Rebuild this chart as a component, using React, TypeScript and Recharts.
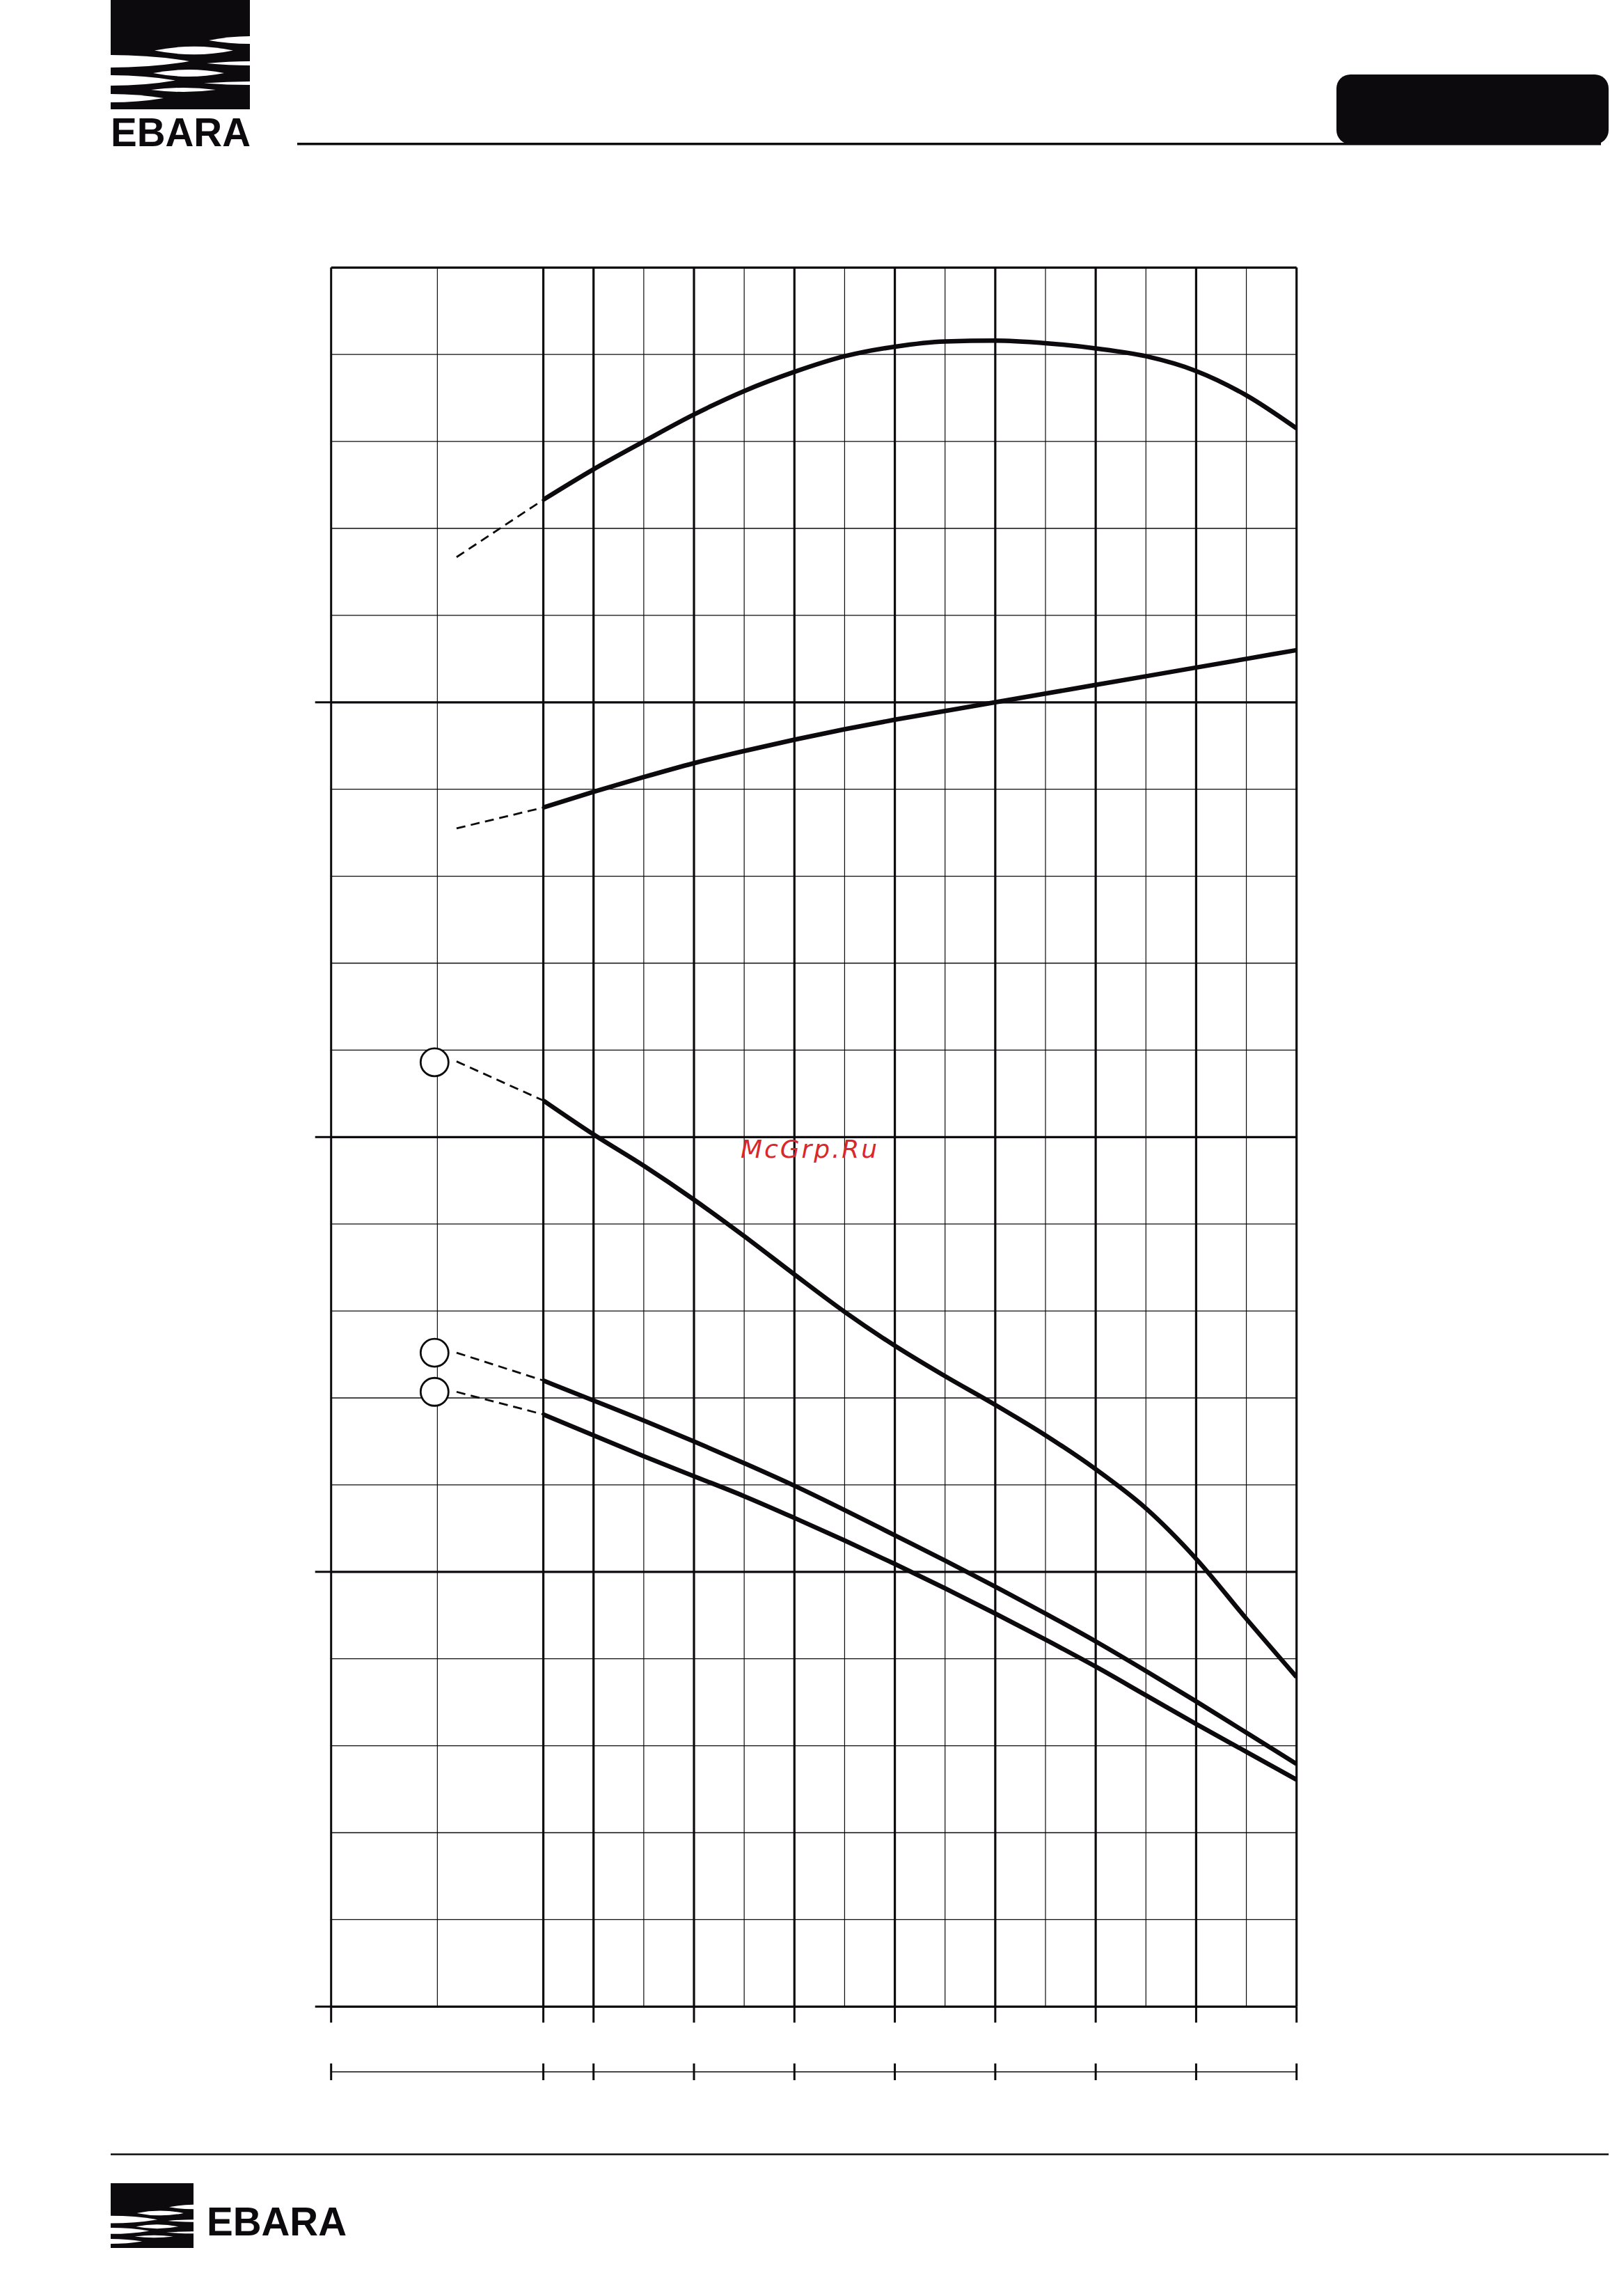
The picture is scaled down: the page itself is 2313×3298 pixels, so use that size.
import React from 'react';
import {
  ComposedChart,
  Line,
  Scatter,
  XAxis,
  YAxis,
  ReferenceLine,
} from 'recharts';

// ============================================================================
// Data (axis has no printed labels; units are grid units)
// ============================================================================

const X_MIN = -0.613;
const X_MAX = 9;
const Y_MIN = 0;
const Y_MAX = 20;

const X_TICKS = [X_MIN, 1.5, 2, 3, 4, 5, 6, 7, 8, 9];
const X_MAJOR = [1.5, 2, 3, 4, 5, 6, 7, 8, 9];
const X_MINOR = [0.445, 2.5, 3.5, 4.5, 5.5, 6.5, 7.5, 8.5];
const Y_TICKS = [0, 5, 10, 15];
const Y_MAJOR = [5, 10, 15, 20];
const Y_MINOR = [1, 2, 3, 4, 6, 7, 8, 9, 11, 12, 13, 14, 16, 17, 18, 19];
const SUB_AXIS_Y = -0.75;

const flowSolid = [1.5, 2, 2.5, 3, 3.5, 4, 4.5, 5, 5.5, 6, 6.5, 7, 7.5, 8, 8.5, 9];
const efficiency = [17.33, 17.68, 18.0, 18.31, 18.58, 18.8, 18.98, 19.09, 19.15, 19.16, 19.13, 19.07, 18.98, 18.81, 18.53, 18.15];
const power = [13.79, 13.97, 14.14, 14.3, 14.44, 14.57, 14.69, 14.8, 14.9, 15.0, 15.1, 15.2, 15.3, 15.4, 15.5, 15.6];
const headA = [10.42, 10.03, 9.67, 9.28, 8.86, 8.42, 7.99, 7.6, 7.25, 6.92, 6.57, 6.18, 5.73, 5.15, 4.46, 3.79];
const headB = [7.2, 6.97, 6.74, 6.5, 6.25, 5.99, 5.71, 5.42, 5.13, 4.83, 4.52, 4.2, 3.86, 3.51, 3.15, 2.79];
const headC = [6.81, 6.57, 6.33, 6.1, 5.87, 5.62, 5.36, 5.09, 4.81, 4.52, 4.22, 3.91, 3.58, 3.25, 2.93, 2.61];

const flowDash = [0.636, 1.5];
const efficiencyDash = [16.67, 17.33];
const powerDash = [13.55, 13.79];
const headADash = [10.87, 10.42];
const headBDash = [7.52, 7.2];
const headCDash = [7.07, 6.81];

const markerX = [0.417, 0.417, 0.417];
const markerY = [10.86, 7.52, 7.07];

// ============================================================================
// Constants
// ============================================================================

const INK = '#0d0a0e';
const PAGE_W = 2313;
const PAGE_H = 3298;

const toPoints = (xs: number[], ys: number[]) => xs.map((x, i) => ({ x, y: ys[i] }));
const noLabel = () => '';

const SOLID = [efficiency, power, headA, headB, headC];
const DASHED = [efficiencyDash, powerDash, headADash, headBDash, headCDash];

const WAVES = [
  'M141 58 Q170 52 200 52 L200 63 Q170 63 141 58 Z',
  'M138 91 Q170 88 200 88 L200 94 Q170 94 138 91 Z',
  'M134 119.5 Q168 117 200 117 L200 122 Q168 122 134 119.5 Z',
  'M0 79 Q60 79 113 88 Q60 97 0 97 Z',
  'M0 108 Q50 108 93 115.5 Q50 123 0 123 Z',
  'M0 135 Q40 135 76 141 Q40 147 0 147 Z',
  'M63 72.5 Q120 61 176 72.5 Q120 84 63 72.5 Z',
  'M61 105 Q112 95 163 105 Q112 115 61 105 Z',
  'M58 129 Q105 123 151 129 Q105 135 58 129 Z',
];

const LogoMark: React.FC<{ x: number; y: number; w: number; h: number }> = ({ x, y, w, h }) => (
  <svg x={x} y={y} width={w} height={h} viewBox="0 0 200 157" preserveAspectRatio="none">
    <rect x={0} y={0} width={200} height={157} fill={INK} />
    {WAVES.map((d, i) => (
      <path key={i} d={d} fill="#fff" />
    ))}
  </svg>
);

const LogoText: React.FC<{ x: number; y: number }> = ({ x, y }) => (
  <text
    x={x}
    y={y}
    fontFamily="Liberation Sans, Arial, sans-serif"
    fontWeight={700}
    fontSize={58}
    textLength={201}
    lengthAdjust="spacingAndGlyphs"
    fill={INK}
  >
    EBARA
  </text>
);

const RingMarker = (props: any) => (
  <circle cx={props.cx} cy={props.cy} r={20} fill="#fff" stroke={INK} strokeWidth={2.8} />
);

// ============================================================================
// Component
// ============================================================================

export default function App() {
  return (
    <div style={{ position: 'absolute', left: 0, top: 0, width: PAGE_W, height: PAGE_H, background: '#fff' }}>
      <div style={{ position: 'absolute', left: 0, top: 0 }}>
        <ComposedChart
          width={PAGE_W}
          height={PAGE_H}
          margin={{ top: 384.3, right: 450.3, left: 445.7, bottom: 304 }}
        >
          <XAxis
            dataKey="x"
            type="number"
            domain={[X_MIN, X_MAX]}
            ticks={X_TICKS}
            interval={0}
            allowDataOverflow
            height={81.7}
            tickFormatter={noLabel}
            tickSize={23}
            tickLine={{ stroke: INK, strokeWidth: 3 }}
            axisLine={{ stroke: INK, strokeWidth: 3.2 }}
          />
          <XAxis
            xAxisId="sub"
            dataKey="x"
            type="number"
            domain={[X_MIN, X_MAX]}
            ticks={X_TICKS}
            interval={0}
            allowDataOverflow
            height={30}
            tickFormatter={noLabel}
            tickSize={24}
            tickLine={{ stroke: INK, strokeWidth: 3 }}
            axisLine={false}
          />
          <YAxis
            dataKey="y"
            type="number"
            domain={[Y_MIN, Y_MAX]}
            ticks={Y_TICKS}
            interval={0}
            allowDataOverflow
            width={30}
            tickFormatter={noLabel}
            tickSize={23}
            tickLine={{ stroke: INK, strokeWidth: 3 }}
            axisLine={{ stroke: INK, strokeWidth: 3 }}
          />

          {Y_MINOR.map((v) => (
            <ReferenceLine key={`ym${v}`} y={v} stroke={INK} strokeWidth={1.3} />
          ))}
          {X_MINOR.map((v) => (
            <ReferenceLine key={`xm${v}`} x={v} stroke={INK} strokeWidth={1.2} />
          ))}
          {Y_MAJOR.map((v) => (
            <ReferenceLine key={`yM${v}`} y={v} stroke={INK} strokeWidth={3.2} />
          ))}
          {X_MAJOR.map((v) => (
            <ReferenceLine key={`xM${v}`} x={v} stroke={INK} strokeWidth={3.2} />
          ))}
          <ReferenceLine y={SUB_AXIS_Y} ifOverflow="visible" stroke={INK} strokeWidth={1.4} />

          {DASHED.map((ys, i) => (
            <Line
              key={`d${i}`}
              data={toPoints(flowDash, ys)}
              dataKey="y"
              type="linear"
              dot={false}
              activeDot={false}
              stroke={INK}
              strokeWidth={2.8}
              strokeDasharray="13 8"
              isAnimationActive={false}
            />
          ))}
          {SOLID.map((ys, i) => (
            <Line
              key={`s${i}`}
              data={toPoints(flowSolid, ys)}
              dataKey="y"
              type="monotone"
              dot={false}
              activeDot={false}
              stroke={INK}
              strokeWidth={6.5}
              isAnimationActive={false}
            />
          ))}
          <Scatter
            data={toPoints(markerX, markerY)}
            dataKey="y"
            shape={RingMarker}
            isAnimationActive={false}
          />
        </ComposedChart>
      </div>

      <svg
        width={PAGE_W}
        height={PAGE_H}
        style={{ position: 'absolute', left: 0, top: 0, pointerEvents: 'none' }}
      >
        {/* header */}
        <LogoMark x={159} y={0} w={200} h={157} />
        <LogoText x={159} y={210} />
        <line x1={427} y1={206.7} x2={2300} y2={206.7} stroke={INK} strokeWidth={3.5} />
        <rect x={1920} y={107} width={391} height={100} rx={20} fill={INK} />

        {/* watermark */}
        <text
          x={1064}
          y={1663}
          fontFamily="DejaVu Sans, sans-serif"
          fontStyle="italic"
          fontSize={36}
          textLength={196}
          lengthAdjust="spacing"
          fill="#d9272b"
        >
          McGrp.Ru
        </text>

        {/* footer */}
        <line x1={159} y1={3094.5} x2={2311} y2={3094.5} stroke={INK} strokeWidth={2.5} />
        <LogoMark x={159} y={3136} w={119} h={93} />
        <LogoText x={297} y={3211} />
      </svg>
    </div>
  );
}
